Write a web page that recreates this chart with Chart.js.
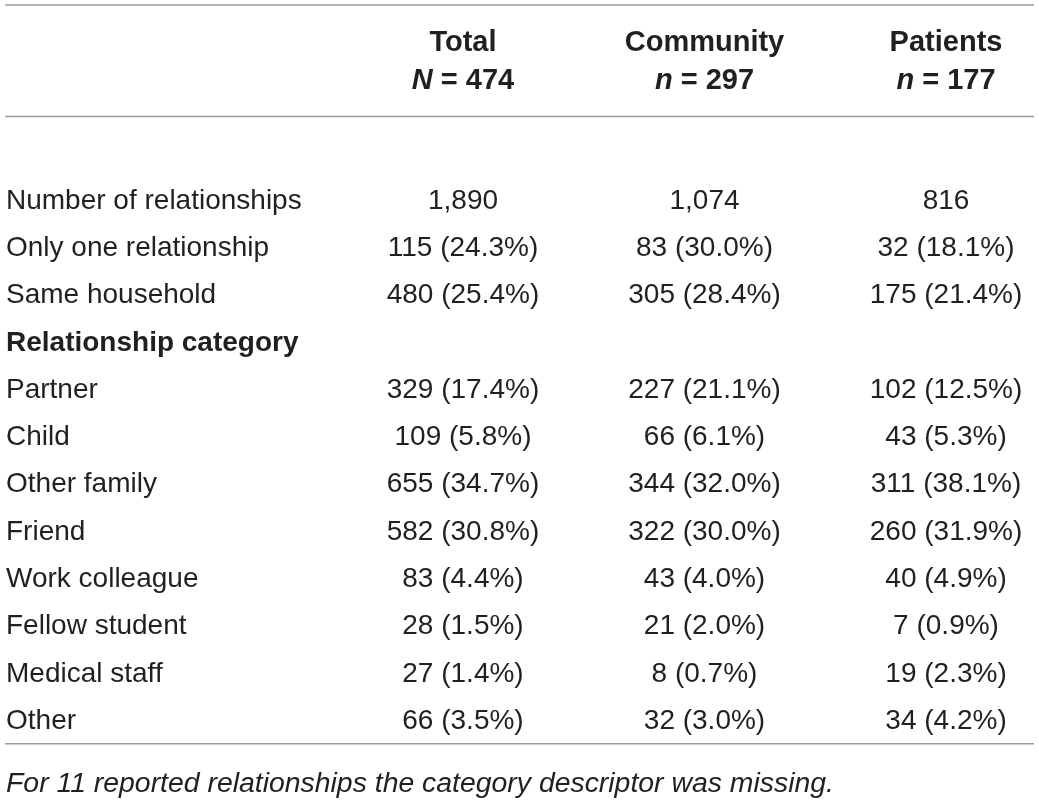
<!DOCTYPE html>
<html>
<head>
<meta charset="utf-8">
<script src="https://cdn.jsdelivr.net/npm/chart.js@4"></script>
<style>
  html, body { margin: 0; padding: 0; background: #fff; }
  canvas { display: block; }
</style>
</head>
<body>
<canvas id="table-chart" width="1039" height="804"></canvas>
<script>
// table contents
const rows = ['Number of relationships', 'Only one relationship', 'Same household', 'Relationship category',
    'Partner', 'Child', 'Other family', 'Friend', 'Work colleague', 'Fellow student', 'Medical staff', 'Other'];
const boldRows = ['Relationship category'];
const groups = ['Total', 'Community', 'Patients'];
const groupLetter = ['N', 'n', 'n'];
const groupSize = [474, 297, 177];

const totalCount = [1890, 115, 480, null, 329, 109, 655, 582, 83, 28, 27, 66];
const totalPct = [null, 24.3, 25.4, null, 17.4, 5.8, 34.7, 30.8, 4.4, 1.5, 1.4, 3.5];
const communityCount = [1074, 83, 305, null, 227, 66, 344, 322, 43, 21, 8, 32];
const communityPct = [null, 30.0, 28.4, null, 21.1, 6.1, 32.0, 30.0, 4.0, 2.0, 0.7, 3.0];
const patientCount = [816, 32, 175, null, 102, 43, 311, 260, 40, 7, 19, 34];
const patientPct = [null, 18.1, 21.4, null, 12.5, 5.3, 38.1, 31.9, 4.9, 0.9, 2.3, 4.2];

const footnote = 'For 11 reported relationships the category descriptor was missing.';

const counts = [totalCount, communityCount, patientCount];
const pcts = [totalPct, communityPct, patientPct];

const FONT = '"Liberation Sans", Arial, sans-serif';
const INK = '#231f20';
const RULE = '#9b9b9b';

function cellText(count, pct) {
    let s = count.toLocaleString('en-US');
    if (pct !== null) s += ' (' + pct.toFixed(1) + '%)';
    return s;
}

const datasets = groups.map((g, c) => ({
    label: g,
    data: rows.map((r, i) => counts[c][i] === null ? null : { x: c + 1, y: i, count: counts[c][i], pct: pcts[c][i] })
        .filter(p => p !== null),
    pointRadius: 0,
    pointHoverRadius: 0,
    showLine: false
}));

const tablePlugin = {
    id: 'tableText',
    afterDatasetsDraw(chart) {
        const ctx = chart.ctx;
        const area = chart.chartArea;
        const xs = chart.scales.x;
        const ys = chart.scales.y;
        ctx.save();
        ctx.fillStyle = INK;
        ctx.textBaseline = 'middle';

        // rules
        ctx.strokeStyle = RULE;
        ctx.lineWidth = 1.5;
        [5, 116.5, area.bottom + 1].forEach(y => {
            ctx.beginPath();
            ctx.moveTo(5, y);
            ctx.lineTo(1034, y);
            ctx.stroke();
        });

        // header
        const hb = 'bold 29px ' + FONT;
        const hi = 'italic bold 29px ' + FONT;
        groups.forEach((g, c) => {
            const cx = xs.getPixelForValue(c + 1);
            ctx.font = hb;
            ctx.textAlign = 'center';
            ctx.fillText(g, cx, 43);
            const rest = ' = ' + groupSize[c];
            ctx.font = hi;
            const w1 = ctx.measureText(groupLetter[c]).width;
            ctx.font = hb;
            const w2 = ctx.measureText(rest).width;
            const x0 = cx - (w1 + w2) / 2;
            ctx.textAlign = 'left';
            ctx.font = hi;
            ctx.fillText(groupLetter[c], x0, 81);
            ctx.font = hb;
            ctx.fillText(rest, x0 + w1, 81);
        });

        // row labels
        ctx.textAlign = 'left';
        rows.forEach((r, i) => {
            ctx.font = (boldRows.includes(r) ? 'bold ' : '') + '28px ' + FONT;
            ctx.fillText(r, 6, ys.getPixelForValue(i) + 2);
        });

        // cells
        ctx.font = '28px ' + FONT;
        ctx.textAlign = 'center';
        chart.data.datasets.forEach((ds, d) => {
            chart.getDatasetMeta(d).data.forEach((el, k) => {
                const p = ds.data[k];
                ctx.fillText(cellText(p.count, p.pct), el.x, el.y + 2);
            });
        });

        // footnote
        ctx.font = 'italic 28.4px ' + FONT;
        ctx.textAlign = 'left';
        ctx.fillText(footnote, 6, 784);
        ctx.restore();
    }
};

new Chart(document.getElementById('table-chart').getContext('2d'), {
    type: 'scatter',
    data: { datasets },
    options: {
        responsive: false,
        animation: false,
        events: [],
        layout: { padding: { top: 175.4, bottom: 61.3, left: 0, right: 0 } },
        plugins: { legend: { display: false }, tooltip: { enabled: false } },
        scales: {
            x: { type: 'linear', min: -0.917, max: 3.385, display: false },
            y: { type: 'linear', reverse: true, min: -0.5, max: rows.length - 0.5, display: false }
        }
    },
    plugins: [tablePlugin]
});
</script>
</body>
</html>
